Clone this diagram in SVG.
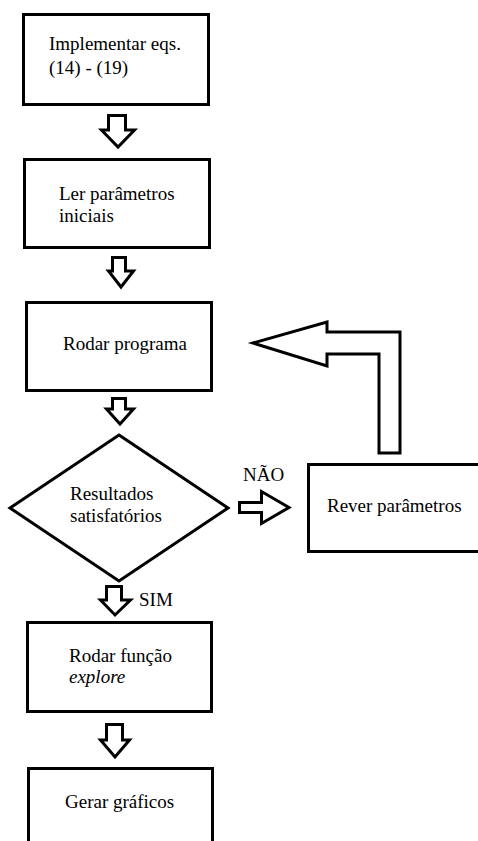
<svg xmlns="http://www.w3.org/2000/svg" width="478" height="841" viewBox="0 0 478 841">
<style>
.box{fill:#fff;stroke:#000;stroke-width:3}
.arr{fill:#fff;stroke:#000;stroke-width:3;stroke-linejoin:miter}
</style>
<rect width="478" height="841" fill="#fff"/>
<g id="n1"><rect class="box" x="23.5" y="14.5" width="185" height="90"/><text font-family="Liberation Serif" font-size="19" x="49" y="50">Implementar eqs.</text><text font-family="Liberation Serif" font-size="19" x="49" y="74">(14) - (19)</text></g>
<g id="n2"><rect class="box" x="24.5" y="159.5" width="185" height="88"/><text font-family="Liberation Serif" font-size="19" x="59" y="200">Ler parâmetros</text><text font-family="Liberation Serif" font-size="19" x="59" y="222">iniciais</text></g>
<g id="n3"><rect class="box" x="26.5" y="302.5" width="185" height="88"/><text font-family="Liberation Serif" font-size="19" x="63" y="350">Rodar programa</text></g>
<g id="n4"><polygon class="box" points="119,435 228,508 119,581 10,508"/><text font-family="Liberation Serif" font-size="19" x="70" y="500">Resultados</text><text font-family="Liberation Serif" font-size="19" x="70" y="522">satisfatórios</text></g>
<g id="n5"><rect class="box" x="308.5" y="464.5" width="200" height="87"/><text font-family="Liberation Serif" font-size="19" x="327" y="512">Rever parâmetros</text></g>
<g id="n6"><rect class="box" x="27.5" y="622.5" width="184" height="89"/><text font-family="Liberation Serif" font-size="19" x="69" y="662">Rodar função</text><text font-family="Liberation Serif" font-size="19" font-style="italic" x="69" y="683">explore</text></g>
<g id="n7"><rect class="box" x="28.5" y="768.5" width="184" height="100"/><text font-family="Liberation Serif" font-size="19" x="65" y="808">Gerar gráficos</text></g>
<g id="connectors">
<polygon class="arr" points="108.5,115.5 125.5,115.5 125.5,130 134.5,130 118,147 101.5,130 108.5,130"/>
<polygon class="arr" points="112.5,257.5 125.5,257.5 125.5,271 133.5,271 121,287 108.5,271 112.5,271"/>
<polygon class="arr" points="112.5,398.5 125.5,398.5 125.5,409 133.5,409 120,424 106.5,409 112.5,409"/>
<polygon class="arr" points="239.5,502.5 261.5,502.5 261.5,491.5 289,507.5 261.5,523.5 261.5,512.5 239.5,512.5"/>
<polygon class="arr" points="253,343 327,322 327,332 400,332 400,453 379,453 379,354 327,354 327,366"/>
<polygon class="arr" points="106.5,586.5 121.5,586.5 121.5,600 130.5,600 115,615 100.5,600 106.5,600"/>
<text font-family="Liberation Serif" font-size="19" x="139" y="606">SIM</text>
<polygon class="arr" points="106.5,724.5 122.5,724.5 122.5,740 129.5,740 115,757 100.5,740 106.5,740"/>
<text font-family="Liberation Serif" font-size="19" x="243" y="481">NÃO</text>
</g>
</svg>
